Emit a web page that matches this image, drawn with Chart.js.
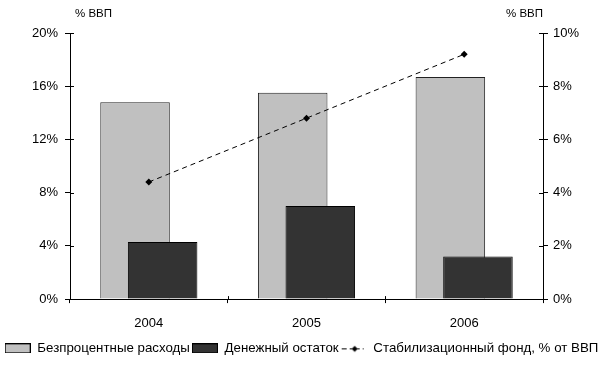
<!DOCTYPE html>
<html lang="ru">
<head>
    <meta charset="UTF-8">
    <script src="https://cdn.jsdelivr.net/npm/chart.js"></script>
    <title>Бюджет</title>
    <style>
        html,body{margin:0; padding:0; background:#fff;}
        #wrap{width:603px; height:365px;}
    </style>
</head>
<body>
<div id="wrap"><canvas id="myChart"></canvas></div>
<script>
    // данные
    const years = ['2004', '2005', '2006']
    const rashody = [14.8, 15.5, 16.7]     // Безпроцентные расходы, % ВВП (левая ось)
    const ostatok = [4.3, 7.0, 3.2]        // Денежный остаток, % ВВП (левая ось)
    const stabFond = [4.4, 6.8, 9.2]       // Стабилизационный фонд, % ВВП (правая ось)
    const leftTicks = [0, 4, 8, 12, 16, 20]
    const rightTicks = [0, 2, 4, 6, 8, 10]

    const FONT = 'Arial, "Liberation Sans", sans-serif'

    // значки легенды
    function makeIcon(fn){
        const c = document.createElement('canvas')
        c.width = 26; c.height = 10
        fn(c.getContext('2d'))
        return c
    }
    const icons = [
        makeIcon(function(g){ g.fillStyle='#c0c0c0'; g.fillRect(0,0,26,10); g.strokeStyle='#000'; g.lineWidth=1; g.strokeRect(0.5,0.5,25,9) }),
        makeIcon(function(g){ g.fillStyle='#333333'; g.fillRect(0,0,26,10); g.strokeStyle='#000'; g.lineWidth=1; g.strokeRect(0.5,0.5,25,9) }),
        makeIcon(function(g){
            g.strokeStyle='#000'; g.lineWidth=1
            g.beginPath()
            g.moveTo(1,5.5); g.lineTo(6,5.5)
            g.moveTo(9,5.5); g.lineTo(19,5.5)
            g.moveTo(22,5.5); g.lineTo(23,5.5)
            g.stroke()
            g.fillStyle='#000'
            g.beginPath(); g.moveTo(14,2.5); g.lineTo(17,5.5); g.lineTo(14,8.5); g.lineTo(11,5.5); g.closePath(); g.fill()
        })
    ]

    // серые столбцы рисуем первыми (под остальными)
    const drawOrder = {
        id: 'drawOrder',
        beforeDatasetsDraw(chart){
            const meta = chart.getDatasetMeta(0)
            const ctx = chart.ctx
            ctx.save()
            meta.controller.draw()
            ctx.restore()
        },
        beforeDatasetDraw(chart, args){
            if (args.index === 0) return false
        }
    }

    // подписи осей и засечки по обе стороны осей
    const extras = {
        id: 'extras',
        afterDraw(chart){
            const ctx = chart.ctx
            const a = chart.chartArea
            ctx.save()
            ctx.strokeStyle = '#000'
            ctx.lineWidth = 1
            ctx.beginPath()
            chart.scales.y.ticks.forEach(function(t, i){
                const y = Math.round(chart.scales.y.getPixelForTick(i)) + 0.5
                ctx.moveTo(a.left, y); ctx.lineTo(a.left + 4, y)
            })
            chart.scales.y2.ticks.forEach(function(t, i){
                const y = Math.round(chart.scales.y2.getPixelForTick(i)) + 0.5
                ctx.moveTo(a.right - 4, y); ctx.lineTo(a.right, y)
            })
            const xs = chart.scales.x
            for (let i = 1; i < years.length; i++){
                const x = Math.round((xs.getPixelForValue(i - 1) + xs.getPixelForValue(i)) / 2) + 0.5
                ctx.moveTo(x, a.bottom - 3); ctx.lineTo(x, a.bottom)
            }
            ctx.stroke()

            ctx.fillStyle = '#000'
            ctx.font = '11.5px ' + FONT
            ctx.textBaseline = 'middle'
            ctx.textAlign = 'left'
            ctx.fillText('% ВВП', a.left + 5, 14)
            ctx.textAlign = 'right'
            ctx.fillText('% ВВП', a.right, 14)
            ctx.restore()
        }
    }

    const ctx = document.getElementById('myChart').getContext('2d')
    const myChart = new Chart(ctx, {
        type: 'bar',
        data: {
            labels: years,
            datasets: [{
                label: 'Безпроцентные расходы',
                data: rashody,
                backgroundColor: '#c0c0c0',
                borderColor: '#222222',
                borderWidth: 1,
                yAxisID: 'y',
                categoryPercentage: 0.35,
                barPercentage: 2.52
            }, {
                label: 'Денежный остаток',
                data: ostatok,
                backgroundColor: '#333333',
                borderColor: '#000000',
                borderWidth: 1,
                yAxisID: 'y',
                categoryPercentage: 0.35,
                barPercentage: 2.52
            }, {
                type: 'line',
                label: 'Стабилизационный фонд, % от ВВП',
                data: stabFond,
                yAxisID: 'y2',
                borderColor: '#000',
                borderWidth: 1,
                borderDash: [5, 4],
                backgroundColor: '#000',
                pointStyle: 'rectRot',
                pointRadius: 3.5,
                pointBorderWidth: 0,
                tension: 0,
                fill: false
            }]
        },
        options: {
            responsive: true,
            maintainAspectRatio: false,
            animation: false,
            layout: { padding: { top: 33, left: 0, right: 0, bottom: 0 } },
            plugins: {
                tooltip: { enabled: false },
                legend: {
                    position: 'bottom',
                    labels: {
                        usePointStyle: true,
                        pointStyleWidth: 26,
                        boxHeight: 10,
                        padding: 2,
                        color: '#000',
                        font: { family: FONT, size: 13.3 },
                        generateLabels: function(chart){
                            const items = Chart.defaults.plugins.legend.labels.generateLabels(chart)
                            items.forEach(function(it){ it.pointStyle = icons[it.datasetIndex] })
                            return items.sort(function(p, q){ return p.datasetIndex - q.datasetIndex })
                        }
                    }
                }
            },
            scales: {
                x: {
                    offset: true,
                    afterFit: function(s){ s.height -= 5 },
                    grid: { offset: true, drawOnChartArea: false, drawTicks: true, tickLength: 4, color: '#000' },
                    border: { color: '#000', width: 1 },
                    ticks: { color: '#000', font: { family: FONT, size: 13 }, padding: 13 }
                },
                y: {
                    position: 'left',
                    min: 0, max: 20,
                    afterBuildTicks: function(s){ s.ticks = leftTicks.map(function(v){ return { value: v } }) },
                    afterFit: function(s){ s.width = 70 },
                    grid: { drawOnChartArea: false, drawTicks: true, tickLength: 5, color: '#000' },
                    border: { color: '#000', width: 1 },
                    ticks: { color: '#000', font: { family: FONT, size: 13 }, padding: 7, callback: function(v){ return v + '%' } }
                },
                y2: {
                    position: 'right',
                    min: 0, max: 10,
                    afterBuildTicks: function(s){ s.ticks = rightTicks.map(function(v){ return { value: v } }) },
                    afterFit: function(s){ s.width = 60 },
                    grid: { drawOnChartArea: false, drawTicks: true, tickLength: 5, color: '#000' },
                    border: { color: '#000', width: 1 },
                    ticks: { color: '#000', font: { family: FONT, size: 13 }, padding: 5, callback: function(v){ return v + '%' } }
                }
            }
        },
        plugins: [drawOrder, extras]
    })
</script>
</body>
</html>
